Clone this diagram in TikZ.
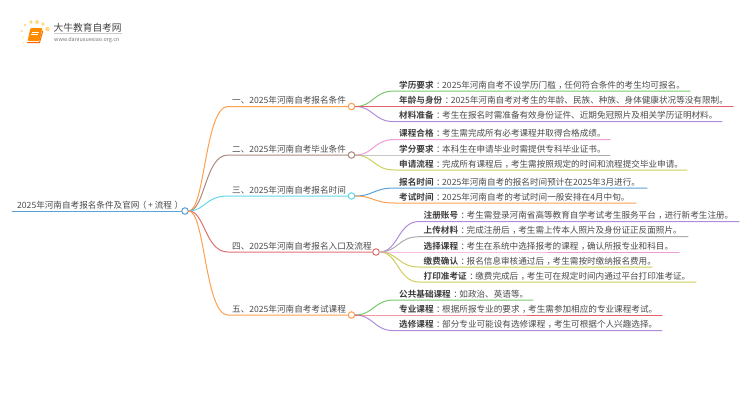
\documentclass[tikz,border=0pt]{standalone}
\usepackage{fontspec}
\setmainfont{Noto Sans CJK SC}[BoldFont={Noto Sans CJK SC Bold}]
\definecolor{cgreen}{HTML}{78C86C}
\definecolor{cred}{HTML}{E8606A}
\definecolor{cpurple}{HTML}{B08CDC}
\definecolor{cpink}{HTML}{F09CD8}
\definecolor{cgray}{HTML}{ABABAB}
\definecolor{cyellow}{HTML}{CFCF5C}
\definecolor{cblue}{HTML}{5CA0D8}
\definecolor{corange}{HTML}{FFA050}
\definecolor{cbrown}{HTML}{AC8A80}
\definecolor{ccyan}{HTML}{62D8E8}
\definecolor{cbred}{HTML}{E07070}
\definecolor{ctext}{HTML}{4A4A4A}
\definecolor{csun}{HTML}{FFD884}
\tikzset{
  x=1pt,y=-1pt,
  wire/.style={line width=1pt,line cap=round},
  dot/.style={circle,draw,fill=white,line width=1pt,minimum size=6.5pt,inner sep=0pt},
  lbl/.style={anchor=base west,inner sep=0pt,text=ctext,font=\fontsize{8.6}{10}\selectfont}
}
\newcommand{\cc}{\hspace{.3em}，\hspace{-.3em}}
\newcommand{\leafk}[1]{\textbf{\color{ctext!80!black}#1}\hspace{.3em}：\hspace{-.3em}}
\begin{document}
\begin{tikzpicture}
\useasboundingbox (0,0) rectangle (750,410);
% logo
\fill[csun] (25,25) circle (1.4) (31,22) circle (1.8) (37,22) circle (2) (43,24) circle (1.8) (47.5,29) circle (2.2) (22,31) circle (1.2);
\fill[csun!60] (23,37) circle (1) (23.5,43) circle (.8);
\fill[orange!90!yellow,rounded corners=1pt] (30.5,28) -- (42.5,28) -- (39.5,41) -- (27.5,41) -- cycle;
\draw[orange!80!red,line width=1pt,line cap=round] (27.5,42.5) -- (39.5,42.5) -- (42.8,31);
\draw[white,line width=.7pt] (32,32) -- (39,32) (31.2,34.5) -- (37.5,34.5);
\node (logoa) [anchor=base west,inner sep=0pt,text=black!75,font=\fontsize{9.7}{10}\selectfont] at (53.5,31) {大牛教育自考网};
\node (logob) [anchor=base west,inner sep=0pt,text=black!55,font=\fontsize{5.4}{6}\selectfont] at (54,41) {www.daniuxuexiao.org.cn};
\draw[black!20,line width=.5pt] (54,33.5) -- (122,33.5);
% hubs
\node (root) [dot,draw=cblue] at (185,211) {};
\node (b1) [dot,draw=corange] at (351.5,106.5) {};
\node (b2) [dot,draw=cbrown] at (351.5,155) {};
\node (b3) [dot,draw=ccyan] at (351.5,196) {};
\node (b4) [dot,draw=cbred] at (376,252) {};
\node (b5) [dot,draw=corange] at (351.5,315) {};
\coordinate (rs) at (12,211);
\draw[wire,cblue] (rs) -- (root);
\newcommand{\branch}[4]{%
 \coordinate (#1k) at (228,#3);
 \draw[wire,#4] (root.east) .. controls (205,211) and (205,#3) .. (#1k) -- (#1);
 \node (#1t) [lbl] at (232,#3-3) {#2};}
\branch{b1}{一、2025年河南自考报名条件}{106.5}{corange}
\branch{b2}{二、2025年河南自考毕业条件}{155}{cbrown}
\branch{b3}{三、2025年河南自考报名时间}{196}{ccyan}
\branch{b4}{四、2025年河南自考报名入口及流程}{252}{cbred}
\branch{b5}{五、2025年河南自考考试课程}{315}{corange}
\node (rt) [lbl] at (17,208) {2025年河南自考报名条件及官网\hspace{-.2em}（\hspace{.2em}+\hspace{2pt}流程\hspace{.3em}）};
\newcommand{\leaf}[8]{% name hub hubx y endx colour key text
 \coordinate (#1a) at (#3+43,#4);
 \coordinate (#1b) at (#5,#4);
 \draw[wire,#6] (#2.east) .. controls (#3+22,\pgfkeysvalueof{/tikz/hy}) and (#3+22,#4) .. (#1a) -- (#1b);
 \node (#1t) [lbl] at (#3+47.5,#4-2.8) {\leafk{#7}#8};}
\pgfkeyssetvalue{/tikz/hy}{106.5}
\leaf{a}{b1}{351.5}{91}{690}{cgreen}{学历要求}{2025年河南自考不设学历门槛\cc 任何符合条件的考生均可报名。}
\leaf{c}{b1}{351.5}{121.7}{722}{cpurple}{材料准备}{考生在报名时需准备有效身份证件、近期免冠照片及相关学历证明材料。}
\leaf{bb}{b1}{351.5}{106.5}{733}{cred}{年龄与身份}{2025年河南自考对考生的年龄、民族、种族、身体健康状况等没有限制。}
\pgfkeyssetvalue{/tikz/hy}{155}
\leaf{d}{b2}{351.5}{139.5}{610}{cpink}{课程合格}{考生需完成所有必考课程并取得合格成绩。}
\leaf{f}{b2}{351.5}{170}{687}{cyellow}{申请流程}{完成所有课程后\cc 考生需按照规定的时间和流程提交毕业申请。}
\leaf{e}{b2}{351.5}{155}{610}{cgray}{学分要求}{本科生在申请毕业时需提供专科毕业证书。}
\pgfkeyssetvalue{/tikz/hy}{196}
\leaf{g}{b3}{351.5}{188}{647}{cblue}{报名时间}{2025年河南自考的报名时间预计在2025年3月进行。}
\leaf{h}{b3}{351.5}{203}{636}{corange}{考试时间}{2025年河南自考的考试时间一般安排在4月中旬。}
\pgfkeyssetvalue{/tikz/hy}{252}
\leaf{i}{b4}{376}{221.5}{739}{cpurple}{注册账号}{考生需登录河南省高等教育自学考试考生服务平台\cc 进行新考生注册。}
\leaf{j}{b4}{376}{236.7}{688}{cgray}{上传材料}{完成注册后\cc 考生需上传本人照片及身份证正反面照片。}
\leaf{l}{b4}{376}{267}{652}{cyellow}{缴费确认}{报名信息审核通过后\cc 考生需按时缴纳报名费用。}
\leaf{m}{b4}{376}{282}{696}{cyellow}{打印准考证}{缴费完成后\cc 考生可在规定时间内通过平台打印准考证。}
\leaf{k}{b4}{376}{252}{679}{cpink}{选择课程}{考生在系统中选择报考的课程\cc 确认所报专业和科目。}
\pgfkeyssetvalue{/tikz/hy}{315}
\leaf{n}{b5}{351.5}{300}{533}{cgreen}{公共基础课程}{如政治、英语等。}
\leaf{p}{b5}{351.5}{330.7}{662}{cpurple}{选修课程}{部分专业可能设有选修课程\cc 考生可根据个人兴趣选择。}
\leaf{o}{b5}{351.5}{315}{662}{cred}{专业课程}{根据所报专业的要求\cc 考生需参加相应的专业课程考试。}
\end{tikzpicture}
\end{document}
